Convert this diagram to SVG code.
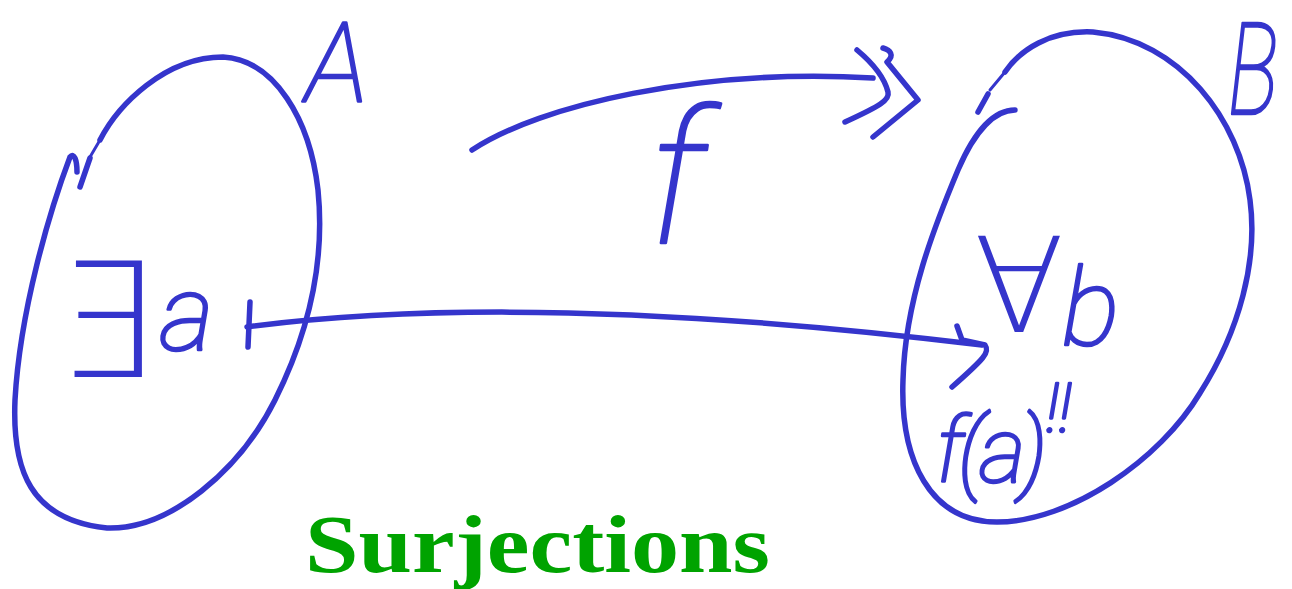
<svg xmlns="http://www.w3.org/2000/svg" width="1292" height="589" viewBox="0 0 1292 589">
<style>
.ink{fill:none;stroke:#3535cc;stroke-width:5.5;stroke-linecap:round;stroke-linejoin:round}
.thin{stroke-width:3}
.lbl{fill:#3535cc;stroke:#3535cc;stroke-width:2.6;stroke-linejoin:round;font-family:Roboto,"Open Sans","DejaVu Sans",sans-serif;font-style:italic;font-weight:100}
.sym{fill:#3535cc;font-family:"DejaVu Sans",sans-serif;font-weight:200}
.title{fill:#00a300;font-family:"Liberation Serif","DejaVu Serif",serif;font-weight:bold;font-size:82px}
</style>
<rect width="1292" height="589" fill="#ffffff"/>
<g id="setA">
<path class="ink" d="M77,172 C77,160 74,152 70,157 C50,210 20,310 15,400 C12,470 30,520 107,528 C170,530 240,470 275,400 C310,330 325,260 318,190 C310,120 275,60 223,57 C165,57 118,105 100,140"/>
<path class="ink thin" d="M100,140 L90,157"/>
<path class="ink" d="M90,158 L80,187"/>
<text class="lbl" x="306" y="102" font-size="112" textLength="62" lengthAdjust="spacingAndGlyphs">A</text>
<text x="55" y="377"><tspan class="sym" font-size="160">∃</tspan><tspan class="lbl" x="160" y="350" font-size="105">a</tspan></text>
</g>
<g id="setB">
<path class="ink" d="M1015,110 C995,110 975,130 958,170 C935,225 905,300 903,380 C900,460 930,522 997,522 C1070,522 1160,460 1200,393 C1240,330 1258,260 1250,200 C1240,120 1180,40 1093,32 C1050,30 1020,50 1005,72"/>
<path class="ink thin" d="M1005,72 L990,90"/>
<path class="ink" d="M988,94 L978,112"/>
<text class="lbl" x="1228" y="114" font-size="128" textLength="50" lengthAdjust="spacingAndGlyphs">B</text>
<text x="974" y="332"><tspan class="sym" font-size="132">∀</tspan><tspan class="lbl" x="1062" y="345" font-size="108">b</tspan></text>
<text x="936" y="482"><tspan class="lbl" font-size="90" letter-spacing="-5">f(a)</tspan><tspan class="lbl" x="1046" dy="-50" font-size="68">!!</tspan></text>
</g>
<g id="labelF">
<text class="lbl" x="648" y="243" font-size="185">f</text>
</g>
<g id="connectors">
<path class="ink" d="M472,150 C540,105 700,68 873,78"/>
<path class="ink" d="M857,50 C875,65 885,80 888,92 C890,100 880,106 845,122"/>
<path class="ink" d="M883,48 C890,50 895,55 887,62 L918,100 L873,137"/>
<path class="ink" d="M250,302 L248,347"/>
<path class="ink" d="M247,327 Q530,290 982,345"/>
<path class="ink" d="M957,326 L962,340 L985,345 C990,352 985,358 952,387"/>
</g>
<text class="title" x="305" y="572" textLength="465" lengthAdjust="spacingAndGlyphs">Surjections</text>
</svg>
